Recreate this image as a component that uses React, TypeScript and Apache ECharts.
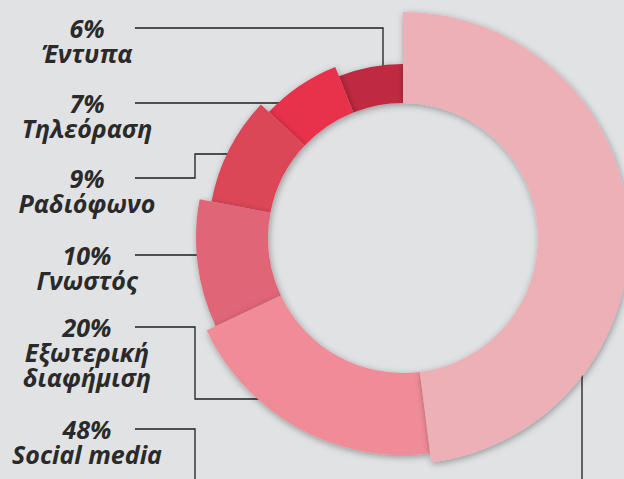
import React, { useEffect, useRef } from "react";
import * as echarts from "echarts";

// Data, clockwise from 12 o'clock
const CATEGORIES = ["Social media", "Εξωτερική\nδιαφήμιση", "Γνωστός", "Ραδιόφωνο", "Τηλεόραση", "Έντυπα"];
const VALUES = [48, 20, 10, 9, 7, 6];

// Styles / layout (kept apart from the data)
const COLORS = ["#edb0b6", "#ef8c98", "#df6577", "#dc4659", "#e8304b", "#bf2a41"];
const OUTER_RADII = [226, 217, 207, 195, 184, 174];
const INNER_RADIUS = 135;
const CENTER: [number, number] = [403, 238];
const LABEL_X = 87;
const LABEL_TOPS = [416.5, 314.5, 242.5, 165.5, 90.5, 15.5];
const LEADERS: number[][][] = [
  [[135, 429], [195, 429], [195, 495], [582, 495], [582, 247]],
  [[135, 327], [195, 327], [195, 399], [364, 399]],
  [[135, 255], [230, 255]],
  [[135, 178], [195, 178], [195, 154], [257, 154]],
  [[135, 103], [318, 103]],
  [[135, 28], [383, 28], [383, 76]],
];

export default function App() {
  const ref = useRef<HTMLDivElement>(null);
  useEffect(() => {
    document.body.style.margin = "0";
    const chart = echarts.init(ref.current!, undefined, { renderer: "svg" });
    // draw order: smallest ring piece first so bigger ones sit on top
    const order = VALUES.map((_, i) => i).sort((a, b) => OUTER_RADII[a] - OUTER_RADII[b]);
    const series = order.map((k) => ({
      type: "pie",
      name: CATEGORIES[k],
      center: CENTER,
      radius: [INNER_RADIUS, OUTER_RADII[k]],
      startAngle: 90,
      clockwise: true,
      silent: true,
      avoidLabelOverlap: false,
      emphasis: { disabled: true },
      labelLayout: () => ({
        x: LABEL_X,
        y: LABEL_TOPS[k],
        align: "center",
        verticalAlign: "top",
        labelLinePoints: LEADERS[k],
      }),
      data: VALUES.map((v, i) => {
        const on = i === k;
        return {
          value: v,
          name: CATEGORIES[i],
          itemStyle: on
            ? {
                color: COLORS[i],
                shadowBlur: 7,
                shadowColor: "rgba(0,0,0,0.35)",
                shadowOffsetX: 1,
                shadowOffsetY: 2,
              }
            : { color: "transparent", shadowBlur: 0 },
          label: on
            ? {
                show: true,
                formatter: (p: any) => `${p.value}%\n${p.name}`,
                fontFamily: "Open Sans",
                fontWeight: "bold",
                fontStyle: "italic",
                fontSize: 25,
                lineHeight: 25,
                color: "#2a2a2a",
              }
            : { show: false },
          labelLine: on
            ? { show: true, lineStyle: { color: "#1e1e1e", width: 1.3 } }
            : { show: false },
        };
      }),
    }));
    chart.setOption({
      animation: false,
      backgroundColor: "#e1e2e4",
      series,
    } as any);
    return () => chart.dispose();
  }, []);
  return <div ref={ref} style={{ position: "fixed", left: 0, top: 0, width: 624, height: 479 }} />;
}
